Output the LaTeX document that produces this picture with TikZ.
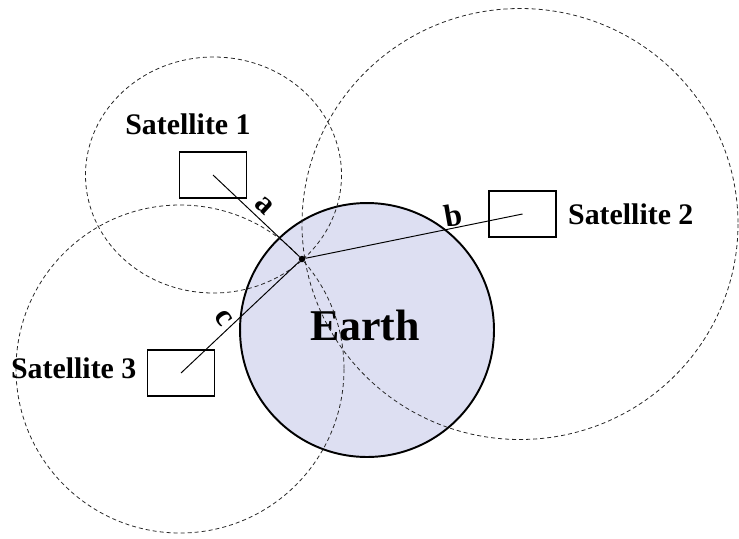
\documentclass[tikz,border=0pt]{standalone}
\usepackage{fontspec}
\setmainfont{Liberation Serif}
\usetikzlibrary{positioning}
\definecolor{earthblue}{RGB}{221,223,242}

\begin{document}
\begin{tikzpicture}[
    x=0.02cm, y=-0.02cm,
    sat/.style={
        rectangle, draw=black, line width=0.9pt,
        minimum width=1.34cm, minimum height=0.92cm, inner sep=0pt
    },
    satlabel/.style={
        font=\fontsize{17}{18}\selectfont\bfseries, inner sep=0pt
    },
    earth/.style={
        circle, draw=black, line width=1.1pt, fill=earthblue,
        minimum size=5.08cm, inner sep=0pt
    },
    rangecirc/.style={draw=black!85, dash pattern=on 2.3pt off 1.7pt, line width=0.45pt},
    ray/.style={draw=black, line width=0.55pt},
    dist/.style={font=\fontsize{18}{19}\selectfont\bfseries, inner sep=0pt},
    fixdot/.style={circle, fill=black, inner sep=0pt, minimum size=0.13cm}
]

\useasboundingbox (0,0) rectangle (739,538);

% Earth
\node[earth] (earth) at (367,330) {};
\node[font=\fontsize{25}{27}\selectfont\bfseries, anchor=base] (earthtxt) at (365,340) {Earth};

% Range circles
\draw[rangecirc] (213.5,175) ellipse [x radius=128, y radius=118];
\draw[rangecirc] (520,224) ellipse [x radius=218, y radius=215.5];
\draw[rangecirc] (180,369) circle [radius=164];

% Satellites
\node[sat] (sat1) at (213,175) {};
\node[sat] (sat2) at (522.5,214) {};
\node[sat] (sat3) at (181,373) {};
\node[satlabel, above=0.32cm of sat1, xshift=-0.5cm] (sat1lbl) {Satellite 1};
\node[satlabel, right=0.22cm of sat2] (sat2lbl) {Satellite 2};
\node[satlabel, left=0.2cm of sat3, yshift=0.1cm] (sat3lbl) {Satellite 3};

% Position fix
\node[fixdot] (fix) at (302,259) {};

% Ranges
\draw[ray] (sat1.center) -- (fix);
\draw[ray] (sat2.center) -- (fix);
\draw[ray] (sat3.center) -- (fix);
\node[dist, rotate=-43] (dista) at (264,206) {a};
\node[dist, rotate=10] (distb) at (453,215) {b};
\node[dist, rotate=-55] (distc) at (224,318) {c};

\end{tikzpicture}
\end{document}
